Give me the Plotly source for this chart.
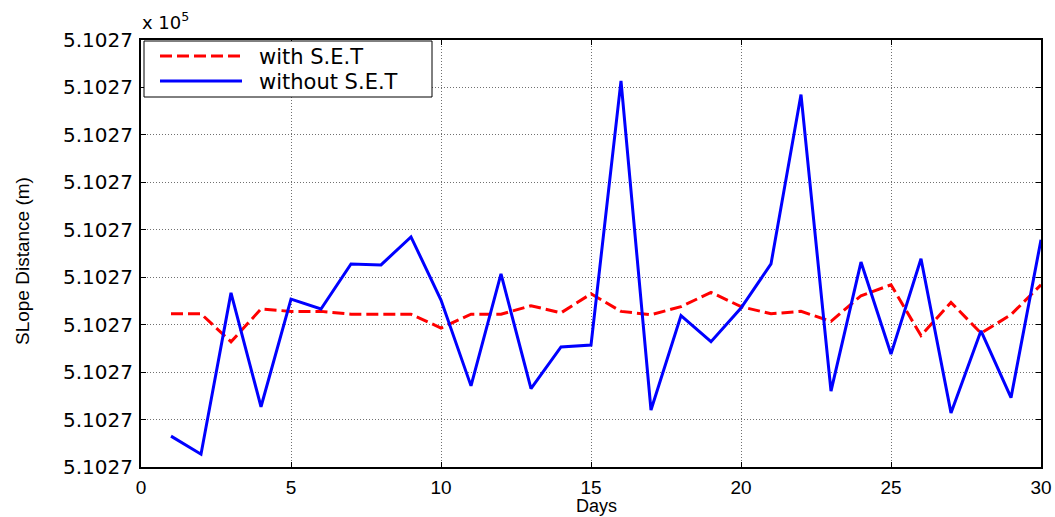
import plotly.graph_objects as go

# Observation days
days = list(range(1, 31))

# Slope distance (m) measured with the S.E.T correction applied
with_set = [
    510270.0323, 510270.0323, 510270.0264, 510270.0333, 510270.0328,
    510270.0328, 510270.0322, 510270.0322, 510270.0322, 510270.0293,
    510270.0322, 510270.0322, 510270.0340, 510270.0325, 510270.0365,
    510270.0328, 510270.0321, 510270.0338, 510270.0368, 510270.0338,
    510270.0323, 510270.0328, 510270.0307, 510270.0361, 510270.0384,
    510270.0277, 510270.0347, 510270.0282, 510270.0321, 510270.0384,
]

# Slope distance (m) without the S.E.T correction
without_set = [
    510270.0065, 510270.0027, 510270.0367, 510270.0127, 510270.0354,
    510270.0333, 510270.0428, 510270.0426, 510270.0485, 510270.0352,
    510270.0171, 510270.0407, 510270.0165, 510270.0253, 510270.0257,
    510270.0814, 510270.0120, 510270.0319, 510270.0264, 510270.0335,
    510270.0428, 510270.0785, 510270.0160, 510270.0432, 510270.0238,
    510270.0439, 510270.0114, 510270.0287, 510270.0146, 510270.0479,
]

series_names = ["with S.E.T", "without S.E.T"]

# Y ticks: ten evenly spaced values, all shown as 5.1027 (x 10^5)
y_ticks = [510270.00 + 0.01 * k for k in range(10)]
y_tick_labels = ["5.1027"] * len(y_ticks)
x_ticks = [0, 5, 10, 15, 20, 25, 30]

ARIAL = "Liberation Sans, Arial, sans-serif"
WIDE = "DejaVu Sans, Verdana, sans-serif"

# Figure geometry (pixels)
W, H = 1055, 517
M_L, M_R, M_T, M_B = 141, 14, 40, 50
PW, PH = W - M_L - M_R, H - M_T - M_B


def px_x(px):
    """Page x pixel -> paper coordinate."""
    return (px - M_L) / PW


def px_y(py):
    """Page y pixel -> paper coordinate."""
    return (H - M_B - py) / PH


line_styles = [
    dict(color="#ff0000", width=3, dash="12px,5px"),
    dict(color="#0000ff", width=3),
]

fig = go.Figure()
for name, ys, style in zip(series_names, [with_set, without_set], line_styles):
    fig.add_trace(go.Scatter(x=days, y=ys, mode="lines", name=name, line=style,
                             showlegend=False))

axis_common = dict(
    showline=True, linecolor="black", linewidth=2, mirror="ticks",
    ticks="inside", ticklen=5, tickcolor="black", tickwidth=1,
    showgrid=True, gridcolor="#707070", gridwidth=1, griddash="1px,2px",
    zeroline=False, automargin=False,
)

fig.update_xaxes(
    range=[0, 30], tickvals=x_ticks, ticklabelstandoff=2,
    tickfont=dict(family=ARIAL, size=19, color="black"),
    **axis_common,
)
fig.update_yaxes(
    range=[y_ticks[0], y_ticks[-1]], tickvals=y_ticks, ticktext=y_tick_labels,
    ticklabelstandoff=2,
    tickfont=dict(family=WIDE, size=20, color="black"),
    **axis_common,
)

# Axis titles and exponent label
fig.add_annotation(
    text="Days", xref="paper", yref="paper", x=px_x(596), y=px_y(506),
    xanchor="center", yanchor="middle", showarrow=False,
    font=dict(family=ARIAL, size=18, color="black"),
)
fig.add_annotation(
    text="SLope Distance (m)", xref="paper", yref="paper",
    x=px_x(22), y=px_y(261), textangle=-90,
    xanchor="center", yanchor="middle", showarrow=False,
    font=dict(family=ARIAL, size=19, color="black"),
)
fig.add_annotation(
    text="x 10<sup>5</sup>", xref="paper", yref="paper", x=px_x(140), y=px_y(21),
    xanchor="left", yanchor="middle", showarrow=False,
    font=dict(family=WIDE, size=18, color="black"),
)

# Legend box with line samples
fig.add_shape(type="rect", xref="paper", yref="paper",
              x0=px_x(144), x1=px_x(432), y0=px_y(97), y1=px_y(41),
              line=dict(color="black", width=1), fillcolor="white", layer="above")
for name, style, cy in zip(series_names, line_styles, [56, 81]):
    fig.add_shape(type="line", xref="paper", yref="paper",
                  x0=px_x(160), x1=px_x(242), y0=px_y(cy), y1=px_y(cy),
                  line=style, layer="above")
    fig.add_annotation(
        text=name, xref="paper", yref="paper", x=px_x(257), y=px_y(cy + 1),
        xanchor="left", yanchor="middle", showarrow=False,
        font=dict(family=WIDE, size=21, color="black"),
    )

fig.update_layout(
    width=W, height=H,
    margin=dict(l=M_L, r=M_R, t=M_T, b=M_B),
    paper_bgcolor="white", plot_bgcolor="white",
    showlegend=False,
)

fig.write_html("out.html")
